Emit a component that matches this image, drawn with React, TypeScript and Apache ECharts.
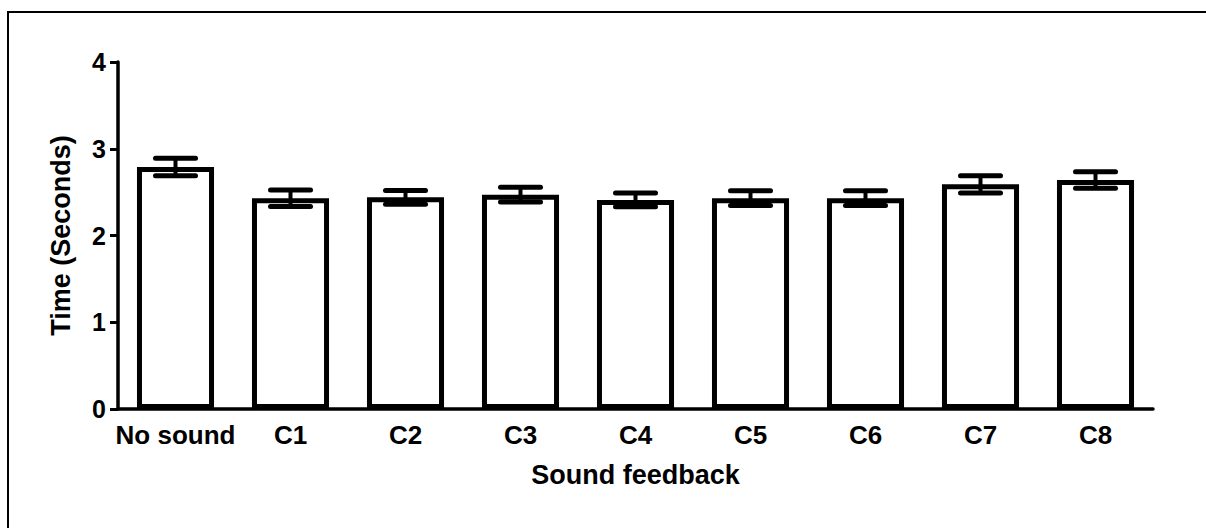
import React, { useEffect, useRef } from "react";
import * as echarts from "echarts";

const categories = ["No sound", "C1", "C2", "C3", "C4", "C5", "C6", "C7", "C8"];
const means = [2.79, 2.43, 2.44, 2.47, 2.41, 2.43, 2.43, 2.59, 2.64];
const sems = [0.1, 0.095, 0.08, 0.085, 0.08, 0.085, 0.085, 0.1, 0.095];
const yTicks = { min: 0, max: 4, interval: 1 };

const FONT = "'Liberation Sans', Arial, sans-serif";

export default function App() {
  const ref = useRef<HTMLDivElement>(null);
  useEffect(() => {
    if (!ref.current) return;
    const chart = echarts.init(ref.current, null, { renderer: "svg" });
    const errData = means.map((m, i) => [i, m - sems[i], m + sems[i]]);
    chart.setOption({
      animation: false,
      backgroundColor: "#ffffff",
      textStyle: { fontFamily: FONT },
      graphic: [
        {
          type: "rect",
          shape: { x: 8, y: 12, width: 1400, height: 700 },
          style: { fill: "none", stroke: "#000", lineWidth: 2 },
          silent: true,
        },
      ],
      grid: { left: 118, right: 53, top: 62, bottom: 119, containLabel: false },
      xAxis: {
        type: "category",
        data: categories,
        name: "Sound feedback",
        nameLocation: "middle",
        nameGap: 52,
        nameTextStyle: { fontSize: 27, fontWeight: "bold", color: "#000", fontFamily: FONT },
        axisLine: { lineStyle: { color: "#000", width: 3.5 } },
        axisTick: { alignWithLabel: true, length: 8, lineStyle: { color: "#000", width: 3 } },
        axisLabel: { interval: 0, fontSize: 26, fontWeight: "bold", color: "#000", margin: 13, fontFamily: FONT },
      },
      yAxis: {
        type: "value",
        min: yTicks.min,
        max: yTicks.max,
        interval: yTicks.interval,
        name: "Time (Seconds)",
        nameLocation: "middle",
        nameGap: 44,
        nameRotate: 90,
        nameTextStyle: { fontSize: 27, fontWeight: "bold", color: "#000", fontFamily: FONT },
        axisLine: { show: true, lineStyle: { color: "#000", width: 3.5 } },
        axisTick: { show: true, length: 8, lineStyle: { color: "#000", width: 3 } },
        axisLabel: { fontSize: 25, fontWeight: "bold", color: "#000", margin: 12, fontFamily: FONT },
        splitLine: { show: false },
      },
      series: [
        {
          type: "bar",
          data: means,
          barWidth: "67%",
          itemStyle: { color: "#ffffff", borderColor: "#000", borderWidth: 5 },
          z: 2,
        },
        {
          type: "custom",
          data: errData,
          z: 3,
          renderItem: (params: any, api: any) => {
            const x = api.value(0);
            const lo = api.coord([x, api.value(1)]);
            const hi = api.coord([x, api.value(2)]);
            const half = 20;
            const cx = lo[0];
            const style = { stroke: "#000", lineWidth: 5, lineCap: "round" };
            return {
              type: "group",
              children: [
                { type: "line", shape: { x1: cx, y1: lo[1], x2: cx, y2: hi[1] }, style: { stroke: "#000", lineWidth: 4 } },
                { type: "line", shape: { x1: cx - half, y1: lo[1], x2: cx + half, y2: lo[1] }, style },
                { type: "line", shape: { x1: cx - half, y1: hi[1], x2: cx + half, y2: hi[1] }, style },
              ],
            };
          },
        },
      ],
    });
    return () => chart.dispose();
  }, []);
  return (
    <div
      ref={ref}
      style={{ position: "fixed", left: 0, top: 0, width: 1206, height: 528 }}
    />
  );
}
